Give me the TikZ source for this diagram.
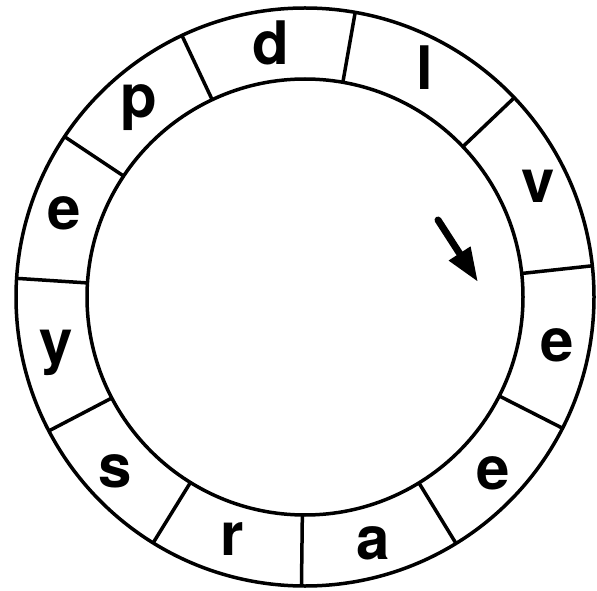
\documentclass[tikz,border=0pt]{standalone}
\usepackage{fontspec}
\setmainfont{TeX Gyre Heros}
\usetikzlibrary{arrows.meta,calc}
\begin{document}
\begin{tikzpicture}[x=1pt,y=1pt,
  ring/.style={line width=3.5pt,black},
  divider/.style={line width=3.5pt,black},
  letter/.style={inner sep=0pt,anchor=base,font=\fontsize{60}{60}\selectfont\bfseries},
  pointer/.style={line width=7pt,line cap=round,-{Triangle[length=34pt,width=24pt]}}]
\useasboundingbox (0,0) rectangle (597,590);
\coordinate (C) at (305,293);
\draw[ring] (C) circle[radius=289];
\draw[ring] (C) circle[radius=218];
\foreach \a in {80,43.6,6.2,-27,-58.5,-90.7,-121.7,-152.4,176.3,146.3,115.2}{
  \draw[divider] ($(C)+(\a:218)$) -- ($(C)+(\a:289)$);
}
\node[letter] (d)  at (271,525) {d};
\node[letter] (l)  at (425,500) {l};
\node[letter] (v)  at (538,387) {v};
\node[letter] (e1) at (557,229) {e};
\node[letter] (e2) at (493,101) {e};
\node[letter] (a)  at (373,31)  {a};
\node[letter] (r)  at (232,35)  {r};
\node[letter] (s)  at (115,103) {s};
\node[letter] (y)  at (56,228)  {y};
\node[letter] (e3) at (64,360)  {e};
\node[letter] (p)  at (139,472) {p};
\coordinate (tail) at (438,370);
\coordinate (tip) at (478,308);
\draw[pointer] (tail) -- (tip);
\end{tikzpicture}
\end{document}
